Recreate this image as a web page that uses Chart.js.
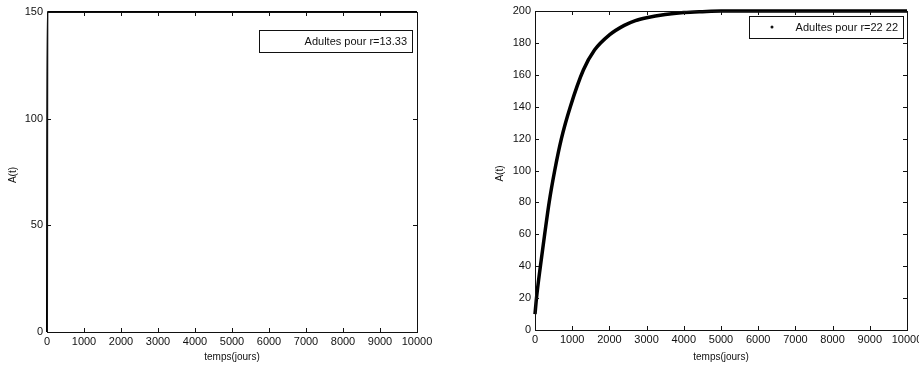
<!DOCTYPE html>
<html>
<head>
<meta charset="utf-8">
<script src="https://cdn.jsdelivr.net/npm/chart.js@4.4.1/dist/chart.umd.min.js"></script>
<style>
  html, body { margin: 0; padding: 0; background: #fff; }
  #wrap { position: relative; width: 919px; height: 366px; overflow: hidden; }
  .box { position: absolute; top: 0; height: 366px; }
</style>
</head>
<body>
<div id="wrap">
  <div class="box" style="left:0;width:460px"><canvas id="chartLeft"></canvas></div>
  <div class="box" style="left:460px;width:459px"><canvas id="chartRight"></canvas></div>
</div>
<script>
// left panel, r = 13.33 (curve sits on the frame)
var tLeft = [0, 10, 10000];
var aLeft = [0, 150, 150];
var yTicksLeft = [0, 50, 100, 150];

// right panel, r = 22.22
var tRight = [0, 40, 145, 260, 380, 530, 710, 950, 1300, 1600, 2000, 2400, 2700, 3000, 3500, 4000, 4500, 5000, 6000, 7000, 8000, 9000, 10000];
var aRight = [10, 20, 40, 60, 80, 100, 120, 140, 163, 175.5, 185, 191, 194, 195.8, 197.8, 199, 199.6, 200, 200, 200, 200, 200, 200];
var yTicksRight = [0, 20, 40, 60, 80, 100, 120, 140, 160, 180, 200];

var xTicks = [0, 1000, 2000, 3000, 4000, 5000, 6000, 7000, 8000, 9000, 10000];

var FONT = 'Liberation Sans, Arial, sans-serif';
var INK = '#111';

function toPoints(xs, ys) {
  return xs.map(function(x, i) { return {x: x, y: ys[i]}; });
}

// box, inward ticks, legend and axis titles, matlab style
var matlabFrame = {
  id: 'matlabFrame',
  afterDraw: function(chart) {
    var o = chart.options.plugins.matlabFrame;
    var ctx = chart.ctx, a = chart.chartArea;
    var xs = chart.scales.x, ys = chart.scales.y;
    ctx.save();
    ctx.strokeStyle = INK;
    ctx.lineWidth = 1;
    ctx.strokeRect(a.left + 0.5, a.top + 0.5, a.right - a.left, a.bottom - a.top);
    ctx.beginPath();
    xTicks.forEach(function(v) {
      var px = Math.round(xs.getPixelForValue(v)) + 0.5;
      ctx.moveTo(px, a.bottom); ctx.lineTo(px, a.bottom - 4);
      ctx.moveTo(px, a.top); ctx.lineTo(px, a.top + 4);
    });
    o.yTicks.forEach(function(v) {
      var py = Math.round(ys.getPixelForValue(v)) + 0.5;
      ctx.moveTo(a.left, py); ctx.lineTo(a.left + 4, py);
      ctx.moveTo(a.right, py); ctx.lineTo(a.right - 4, py);
    });
    ctx.stroke();

    // legend box
    var L = o.legend;
    ctx.fillStyle = '#fff';
    ctx.fillRect(L.x, L.y, L.w, L.h);
    ctx.strokeRect(L.x + 0.5, L.y + 0.5, L.w, L.h);
    ctx.fillStyle = INK;
    ctx.font = '11px ' + FONT;
    ctx.textBaseline = 'middle';
    ctx.textAlign = 'right';
    ctx.fillText(chart.data.datasets[0].label, L.x + L.w - 5, L.y + L.h / 2 + 1);
    if (L.dot) {
      ctx.beginPath();
      ctx.arc(L.x + 23, L.y + L.h / 2, 1.5, 0, Math.PI * 2);
      ctx.fill();
    }

    // axis titles
    ctx.font = '10px ' + FONT;
    ctx.textAlign = 'center';
    ctx.fillText('temps(jours)', (a.left + a.right) / 2, 357);
    ctx.save();
    ctx.translate(o.yTitleX, (a.top + a.bottom) / 2 + 3);
    ctx.rotate(-Math.PI / 2);
    ctx.fillText('A(t)', 0, 0);
    ctx.restore();
    ctx.restore();
  }
};

function plain(v) { return String(v); }

function makeChart(id, cfg) {
  var ctx = document.getElementById(id).getContext('2d');
  return new Chart(ctx, {
    type: 'scatter',
    data: {
      datasets: [{
        label: cfg.label,
        data: toPoints(cfg.t, cfg.a),
        showLine: true,
        borderColor: '#000',
        borderWidth: cfg.lineWidth,
        pointRadius: 0,
        cubicInterpolationMode: 'monotone',
        clip: 2
      }]
    },
    options: {
      responsive: true,
      maintainAspectRatio: false,
      animation: false,
      layout: {padding: {top: cfg.top, right: cfg.right, left: 0, bottom: 0}},
      plugins: {
        legend: {display: false},
        tooltip: {enabled: false},
        matlabFrame: {yTicks: cfg.yTicks, legend: cfg.legend, yTitleX: cfg.yTitleX}
      },
      scales: {
        x: {
          type: 'linear', min: 0, max: 10000,
          afterBuildTicks: function(s) { s.ticks = xTicks.map(function(v) { return {value: v}; }); },
          afterFit: function(s) { s.height = cfg.xHeight; s.paddingLeft = 0; s.paddingRight = 0; },
          grid: {display: false, drawTicks: false},
          border: {display: false},
          ticks: {color: INK, font: {family: FONT, size: 11}, padding: 3, maxRotation: 0, autoSkip: false, callback: plain}
        },
        y: {
          type: 'linear', min: 0, max: cfg.yTicks[cfg.yTicks.length - 1],
          afterBuildTicks: function(s) { s.ticks = cfg.yTicks.map(function(v) { return {value: v}; }); },
          afterFit: function(s) { s.width = cfg.yWidth; s.paddingTop = 0; s.paddingBottom = 0; },
          grid: {display: false, drawTicks: false},
          border: {display: false},
          ticks: {color: INK, font: {family: FONT, size: 11}, padding: 4, callback: plain}
        }
      }
    },
    plugins: [matlabFrame]
  });
}

makeChart('chartLeft', {
  label: 'Adultes pour r=13.33',
  t: tLeft, a: aLeft, yTicks: yTicksLeft, lineWidth: 2,
  top: 12, right: 43, yWidth: 47, xHeight: 34, yTitleX: 13,
  legend: {x: 259, y: 30, w: 153, h: 22, dot: false}
});

makeChart('chartRight', {
  label: 'Adultes pour r=22 22',
  t: tRight, a: aRight, yTicks: yTicksRight, lineWidth: 3.5,
  top: 11, right: 12, yWidth: 75, xHeight: 36, yTitleX: 40,
  legend: {x: 289, y: 16, w: 154, h: 22, dot: true}
});
</script>
</body>
</html>
